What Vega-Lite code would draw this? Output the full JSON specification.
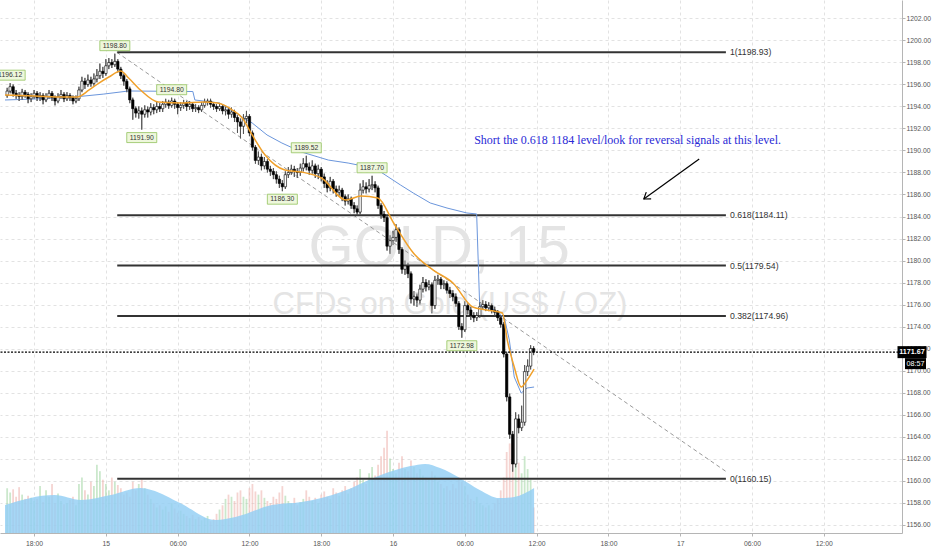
{
"$schema":"https://vega.github.io/schema/vega-lite/v6.json",
"width":902,"height":533,"autosize":"none",
"padding":{"left":0,"top":0,"right":30,"bottom":17},
"background":"#ffffff",
"config":{"view":{"stroke":null},"text":{"font":"Liberation Sans"}},
"datasets":{
"bars":[
{"t":-8.25,"o":1195.0,"h":1195.7,"l":1194.8,"c":1195.4,"v":210},
{"t":-8.0,"o":1195.4,"h":1196.12,"l":1195.2,"c":1195.8,"v":190},
{"t":-7.75,"o":1195.8,"h":1196.0,"l":1194.9,"c":1195.2,"v":205},
{"t":-7.5,"o":1195.2,"h":1195.5,"l":1194.7,"c":1195.0,"v":170},
{"t":-7.25,"o":1195.0,"h":1195.3,"l":1194.5,"c":1194.9,"v":215},
{"t":-7.0,"o":1194.9,"h":1195.6,"l":1194.6,"c":1195.3,"v":180},
{"t":-6.75,"o":1195.3,"h":1195.5,"l":1194.8,"c":1195.1,"v":160},
{"t":-6.5,"o":1195.1,"h":1195.3,"l":1194.3,"c":1194.7,"v":175},
{"t":-6.25,"o":1194.7,"h":1195.2,"l":1194.4,"c":1194.9,"v":165},
{"t":-6.0,"o":1194.9,"h":1195.5,"l":1194.7,"c":1195.2,"v":150},
{"t":-5.75,"o":1195.2,"h":1195.4,"l":1194.5,"c":1194.8,"v":160},
{"t":-5.5,"o":1194.8,"h":1195.3,"l":1194.5,"c":1195.0,"v":220},
{"t":-5.25,"o":1195.0,"h":1195.2,"l":1194.2,"c":1194.6,"v":145},
{"t":-5.0,"o":1194.6,"h":1195.2,"l":1194.4,"c":1194.9,"v":200},
{"t":-4.75,"o":1194.9,"h":1195.5,"l":1194.7,"c":1195.2,"v":170},
{"t":-4.5,"o":1195.2,"h":1195.4,"l":1194.5,"c":1194.8,"v":230},
{"t":-4.25,"o":1194.8,"h":1195.0,"l":1194.1,"c":1194.5,"v":140},
{"t":-4.0,"o":1194.5,"h":1195.2,"l":1194.3,"c":1194.9,"v":185},
{"t":-3.75,"o":1194.9,"h":1195.5,"l":1194.7,"c":1195.1,"v":150},
{"t":-3.5,"o":1195.1,"h":1195.3,"l":1194.4,"c":1194.7,"v":135},
{"t":-3.25,"o":1194.7,"h":1195.3,"l":1194.5,"c":1195.0,"v":140},
{"t":-3.0,"o":1195.0,"h":1195.2,"l":1194.5,"c":1194.8,"v":155},
{"t":-2.75,"o":1194.8,"h":1195.0,"l":1194.2,"c":1194.5,"v":170},
{"t":-2.5,"o":1194.5,"h":1195.0,"l":1194.3,"c":1194.7,"v":130},
{"t":-2.25,"o":1194.7,"h":1195.8,"l":1194.5,"c":1195.5,"v":230},
{"t":-2.0,"o":1195.5,"h":1196.7,"l":1195.3,"c":1196.3,"v":260},
{"t":-1.75,"o":1196.3,"h":1196.6,"l":1195.6,"c":1196.0,"v":200},
{"t":-1.5,"o":1196.0,"h":1196.9,"l":1195.8,"c":1196.4,"v":180},
{"t":-1.25,"o":1196.4,"h":1196.7,"l":1195.8,"c":1196.1,"v":240},
{"t":-1.0,"o":1196.1,"h":1197.0,"l":1195.9,"c":1196.5,"v":220},
{"t":-0.75,"o":1196.5,"h":1197.4,"l":1196.2,"c":1196.8,"v":320},
{"t":-0.5,"o":1196.8,"h":1197.9,"l":1196.5,"c":1197.2,"v":290},
{"t":-0.25,"o":1197.2,"h":1197.6,"l":1196.6,"c":1197.0,"v":250},
{"t":0.0,"o":1197.0,"h":1198.3,"l":1196.8,"c":1197.7,"v":230},
{"t":0.25,"o":1197.7,"h":1198.4,"l":1197.4,"c":1198.0,"v":200},
{"t":0.5,"o":1198.0,"h":1198.3,"l":1197.5,"c":1197.8,"v":260},
{"t":0.75,"o":1197.8,"h":1198.8,"l":1197.6,"c":1198.1,"v":240},
{"t":1.0,"o":1198.1,"h":1198.3,"l":1197.1,"c":1197.4,"v":225},
{"t":1.25,"o":1197.4,"h":1197.6,"l":1196.5,"c":1196.8,"v":210},
{"t":1.5,"o":1196.8,"h":1197.0,"l":1195.9,"c":1196.3,"v":180},
{"t":1.75,"o":1196.3,"h":1196.5,"l":1195.3,"c":1195.6,"v":190},
{"t":2.0,"o":1195.6,"h":1195.8,"l":1194.3,"c":1194.6,"v":170},
{"t":2.25,"o":1194.6,"h":1194.8,"l":1192.8,"c":1193.8,"v":240},
{"t":2.5,"o":1193.8,"h":1194.0,"l":1193.0,"c":1193.4,"v":200},
{"t":2.75,"o":1193.4,"h":1194.0,"l":1192.9,"c":1193.6,"v":230},
{"t":3.0,"o":1193.6,"h":1193.9,"l":1191.9,"c":1193.3,"v":250},
{"t":3.25,"o":1193.3,"h":1194.1,"l":1193.0,"c":1193.7,"v":210},
{"t":3.5,"o":1193.7,"h":1194.0,"l":1193.0,"c":1193.5,"v":180},
{"t":3.75,"o":1193.5,"h":1194.3,"l":1193.2,"c":1193.9,"v":160},
{"t":4.0,"o":1193.9,"h":1194.2,"l":1193.3,"c":1193.7,"v":140},
{"t":4.25,"o":1193.7,"h":1194.4,"l":1193.4,"c":1194.0,"v":120},
{"t":4.5,"o":1194.0,"h":1194.3,"l":1193.5,"c":1193.8,"v":130},
{"t":4.75,"o":1193.8,"h":1194.5,"l":1193.5,"c":1194.2,"v":110},
{"t":5.0,"o":1194.2,"h":1194.7,"l":1193.9,"c":1194.4,"v":125},
{"t":5.25,"o":1194.4,"h":1194.6,"l":1193.8,"c":1194.1,"v":100},
{"t":5.5,"o":1194.1,"h":1194.8,"l":1193.9,"c":1194.5,"v":140},
{"t":5.75,"o":1194.5,"h":1194.7,"l":1193.8,"c":1194.2,"v":115},
{"t":6.0,"o":1194.2,"h":1194.4,"l":1193.3,"c":1193.9,"v":95},
{"t":6.25,"o":1193.9,"h":1194.4,"l":1193.6,"c":1194.1,"v":105},
{"t":6.5,"o":1194.1,"h":1194.6,"l":1193.8,"c":1194.3,"v":90},
{"t":6.75,"o":1194.3,"h":1194.5,"l":1193.6,"c":1194.0,"v":80},
{"t":7.0,"o":1194.0,"h":1194.5,"l":1193.7,"c":1194.2,"v":70},
{"t":7.25,"o":1194.2,"h":1194.4,"l":1193.5,"c":1193.8,"v":85},
{"t":7.5,"o":1193.8,"h":1194.2,"l":1193.5,"c":1193.9,"v":65},
{"t":7.75,"o":1193.9,"h":1194.1,"l":1193.4,"c":1193.7,"v":75},
{"t":8.0,"o":1193.7,"h":1194.4,"l":1193.5,"c":1194.1,"v":60},
{"t":8.25,"o":1194.1,"h":1194.7,"l":1193.9,"c":1194.4,"v":70},
{"t":8.5,"o":1194.4,"h":1194.7,"l":1194.1,"c":1194.5,"v":80},
{"t":8.75,"o":1194.5,"h":1194.7,"l":1193.9,"c":1194.2,"v":55},
{"t":9.0,"o":1194.2,"h":1194.4,"l":1193.7,"c":1194.0,"v":65},
{"t":9.25,"o":1194.0,"h":1194.2,"l":1193.5,"c":1193.8,"v":90},
{"t":9.5,"o":1193.8,"h":1194.3,"l":1193.6,"c":1194.0,"v":110},
{"t":9.75,"o":1194.0,"h":1194.2,"l":1193.3,"c":1193.6,"v":130},
{"t":10.0,"o":1193.6,"h":1194.0,"l":1193.2,"c":1193.7,"v":160},
{"t":10.25,"o":1193.7,"h":1193.9,"l":1192.9,"c":1193.3,"v":180},
{"t":10.5,"o":1193.3,"h":1193.9,"l":1193.0,"c":1193.5,"v":170},
{"t":10.75,"o":1193.5,"h":1193.7,"l":1192.6,"c":1193.0,"v":150},
{"t":11.0,"o":1193.0,"h":1193.2,"l":1191.6,"c":1192.6,"v":190},
{"t":11.25,"o":1192.6,"h":1192.9,"l":1191.1,"c":1192.2,"v":200},
{"t":11.5,"o":1192.2,"h":1193.3,"l":1191.5,"c":1192.9,"v":170},
{"t":11.75,"o":1192.9,"h":1193.6,"l":1192.5,"c":1193.1,"v":160},
{"t":12.0,"o":1193.1,"h":1193.3,"l":1191.3,"c":1191.6,"v":210},
{"t":12.25,"o":1191.6,"h":1191.8,"l":1190.0,"c":1190.3,"v":230},
{"t":12.5,"o":1190.3,"h":1190.5,"l":1188.8,"c":1189.1,"v":195},
{"t":12.75,"o":1189.1,"h":1189.9,"l":1188.7,"c":1189.4,"v":180},
{"t":13.0,"o":1189.4,"h":1189.7,"l":1188.2,"c":1188.6,"v":200},
{"t":13.25,"o":1188.6,"h":1189.4,"l":1188.3,"c":1189.0,"v":165},
{"t":13.5,"o":1189.0,"h":1189.2,"l":1188.0,"c":1188.3,"v":150},
{"t":13.75,"o":1188.3,"h":1188.6,"l":1187.7,"c":1188.1,"v":140},
{"t":14.0,"o":1188.1,"h":1188.4,"l":1187.4,"c":1187.8,"v":170},
{"t":14.25,"o":1187.8,"h":1188.1,"l":1187.0,"c":1187.4,"v":160},
{"t":14.5,"o":1187.4,"h":1187.7,"l":1186.6,"c":1187.0,"v":190},
{"t":14.75,"o":1187.0,"h":1187.3,"l":1186.3,"c":1186.7,"v":220},
{"t":15.0,"o":1186.7,"h":1188.1,"l":1186.5,"c":1187.8,"v":175},
{"t":15.25,"o":1187.8,"h":1188.5,"l":1187.5,"c":1188.0,"v":150},
{"t":15.5,"o":1188.0,"h":1188.7,"l":1187.8,"c":1188.3,"v":140},
{"t":15.75,"o":1188.3,"h":1188.6,"l":1187.6,"c":1188.1,"v":165},
{"t":16.0,"o":1188.1,"h":1188.4,"l":1187.5,"c":1188.0,"v":130},
{"t":16.25,"o":1188.0,"h":1188.8,"l":1187.7,"c":1188.4,"v":145},
{"t":16.5,"o":1188.4,"h":1189.3,"l":1188.1,"c":1188.8,"v":160},
{"t":16.75,"o":1188.8,"h":1189.52,"l":1188.2,"c":1188.5,"v":200},
{"t":17.0,"o":1188.5,"h":1188.9,"l":1187.8,"c":1188.2,"v":170},
{"t":17.25,"o":1188.2,"h":1189.1,"l":1187.9,"c":1188.6,"v":150},
{"t":17.5,"o":1188.6,"h":1188.8,"l":1187.5,"c":1187.9,"v":165},
{"t":17.75,"o":1187.9,"h":1188.7,"l":1187.4,"c":1188.3,"v":140},
{"t":18.0,"o":1188.3,"h":1188.5,"l":1187.2,"c":1187.6,"v":180},
{"t":18.25,"o":1187.6,"h":1187.9,"l":1186.6,"c":1187.0,"v":195},
{"t":18.5,"o":1187.0,"h":1187.3,"l":1186.2,"c":1186.6,"v":170},
{"t":18.75,"o":1186.6,"h":1187.6,"l":1186.3,"c":1187.2,"v":160},
{"t":19.0,"o":1187.2,"h":1187.4,"l":1186.1,"c":1186.5,"v":210},
{"t":19.25,"o":1186.5,"h":1186.8,"l":1185.8,"c":1186.2,"v":190},
{"t":19.5,"o":1186.2,"h":1186.8,"l":1185.9,"c":1186.4,"v":175},
{"t":19.75,"o":1186.4,"h":1186.6,"l":1185.4,"c":1185.8,"v":200},
{"t":20.0,"o":1185.8,"h":1186.0,"l":1185.0,"c":1185.4,"v":220},
{"t":20.25,"o":1185.4,"h":1186.0,"l":1185.1,"c":1185.6,"v":185},
{"t":20.5,"o":1185.6,"h":1185.8,"l":1184.7,"c":1185.0,"v":210},
{"t":20.75,"o":1185.0,"h":1185.3,"l":1184.3,"c":1184.7,"v":240},
{"t":21.0,"o":1184.7,"h":1185.0,"l":1184.1,"c":1184.4,"v":260},
{"t":21.25,"o":1184.4,"h":1187.0,"l":1184.2,"c":1186.4,"v":300},
{"t":21.5,"o":1186.4,"h":1187.3,"l":1186.1,"c":1186.7,"v":250},
{"t":21.75,"o":1186.7,"h":1187.1,"l":1186.1,"c":1186.5,"v":230},
{"t":22.0,"o":1186.5,"h":1187.4,"l":1186.2,"c":1186.8,"v":280},
{"t":22.25,"o":1186.8,"h":1187.7,"l":1186.4,"c":1186.9,"v":310},
{"t":22.5,"o":1186.9,"h":1187.2,"l":1186.2,"c":1186.6,"v":270},
{"t":22.75,"o":1186.6,"h":1186.8,"l":1184.7,"c":1185.0,"v":320},
{"t":23.0,"o":1185.0,"h":1185.2,"l":1183.8,"c":1184.2,"v":360},
{"t":23.25,"o":1184.2,"h":1184.5,"l":1183.5,"c":1183.9,"v":400},
{"t":23.5,"o":1183.9,"h":1184.1,"l":1180.9,"c":1181.3,"v":480},
{"t":23.75,"o":1181.3,"h":1182.3,"l":1180.6,"c":1181.8,"v":350},
{"t":24.0,"o":1181.8,"h":1182.7,"l":1181.4,"c":1182.1,"v":300},
{"t":24.25,"o":1182.1,"h":1183.3,"l":1181.7,"c":1182.8,"v":280},
{"t":24.5,"o":1182.8,"h":1183.0,"l":1180.6,"c":1181.0,"v":330},
{"t":24.75,"o":1181.0,"h":1181.2,"l":1178.8,"c":1179.2,"v":360},
{"t":25.0,"o":1179.2,"h":1180.0,"l":1178.7,"c":1179.5,"v":300},
{"t":25.25,"o":1179.5,"h":1179.8,"l":1178.4,"c":1178.8,"v":290},
{"t":25.5,"o":1178.8,"h":1179.0,"l":1176.1,"c":1176.5,"v":340},
{"t":25.75,"o":1176.5,"h":1177.2,"l":1175.9,"c":1176.7,"v":310},
{"t":26.0,"o":1176.7,"h":1177.0,"l":1175.8,"c":1176.4,"v":280},
{"t":26.25,"o":1176.4,"h":1177.8,"l":1176.0,"c":1177.4,"v":300},
{"t":26.5,"o":1177.4,"h":1178.5,"l":1177.1,"c":1178.0,"v":270},
{"t":26.75,"o":1178.0,"h":1178.3,"l":1177.2,"c":1177.6,"v":260},
{"t":27.0,"o":1177.6,"h":1178.2,"l":1177.3,"c":1177.8,"v":250},
{"t":27.25,"o":1177.8,"h":1178.0,"l":1175.2,"c":1175.9,"v":290},
{"t":27.5,"o":1175.9,"h":1178.6,"l":1175.6,"c":1178.2,"v":270},
{"t":27.75,"o":1178.2,"h":1178.7,"l":1177.8,"c":1178.3,"v":240},
{"t":28.0,"o":1178.3,"h":1178.5,"l":1177.4,"c":1177.8,"v":230},
{"t":28.25,"o":1177.8,"h":1178.2,"l":1177.4,"c":1177.9,"v":210},
{"t":28.5,"o":1177.9,"h":1178.1,"l":1177.0,"c":1177.3,"v":220},
{"t":28.75,"o":1177.3,"h":1177.6,"l":1176.6,"c":1177.0,"v":200},
{"t":29.0,"o":1177.0,"h":1177.3,"l":1176.3,"c":1176.7,"v":230},
{"t":29.25,"o":1176.7,"h":1177.0,"l":1175.8,"c":1176.1,"v":210},
{"t":29.5,"o":1176.1,"h":1176.3,"l":1173.7,"c":1174.0,"v":260},
{"t":29.75,"o":1174.0,"h":1174.3,"l":1172.98,"c":1173.7,"v":240},
{"t":30.0,"o":1173.7,"h":1176.3,"l":1173.5,"c":1175.9,"v":220},
{"t":30.25,"o":1175.9,"h":1176.1,"l":1175.1,"c":1175.5,"v":180},
{"t":30.5,"o":1175.5,"h":1175.8,"l":1174.6,"c":1175.0,"v":160},
{"t":30.75,"o":1175.0,"h":1175.3,"l":1174.4,"c":1174.8,"v":150},
{"t":31.0,"o":1174.8,"h":1175.3,"l":1174.5,"c":1175.0,"v":170},
{"t":31.25,"o":1175.0,"h":1176.2,"l":1174.8,"c":1175.8,"v":140},
{"t":31.5,"o":1175.8,"h":1176.4,"l":1175.5,"c":1176.0,"v":130},
{"t":31.75,"o":1176.0,"h":1176.3,"l":1175.4,"c":1175.7,"v":120},
{"t":32.0,"o":1175.7,"h":1176.2,"l":1175.4,"c":1175.9,"v":130},
{"t":32.25,"o":1175.9,"h":1176.1,"l":1175.2,"c":1175.5,"v":110},
{"t":32.5,"o":1175.5,"h":1175.8,"l":1175.0,"c":1175.3,"v":140},
{"t":32.75,"o":1175.3,"h":1175.5,"l":1174.5,"c":1174.8,"v":160},
{"t":33.0,"o":1174.8,"h":1175.0,"l":1173.9,"c":1174.2,"v":200},
{"t":33.25,"o":1174.2,"h":1174.4,"l":1171.2,"c":1171.5,"v":260},
{"t":33.5,"o":1171.5,"h":1171.7,"l":1167.2,"c":1167.6,"v":380},
{"t":33.75,"o":1167.6,"h":1167.9,"l":1163.8,"c":1164.2,"v":420},
{"t":34.0,"o":1164.2,"h":1164.5,"l":1160.8,"c":1161.5,"v":450},
{"t":34.25,"o":1161.5,"h":1166.2,"l":1161.2,"c":1165.6,"v":400},
{"t":34.5,"o":1165.6,"h":1166.0,"l":1164.3,"c":1164.8,"v":330},
{"t":34.75,"o":1164.8,"h":1166.8,"l":1164.5,"c":1165.3,"v":280},
{"t":35.0,"o":1165.3,"h":1170.5,"l":1165.0,"c":1169.9,"v":360},
{"t":35.25,"o":1169.9,"h":1171.0,"l":1169.5,"c":1170.4,"v":300},
{"t":35.5,"o":1170.4,"h":1172.3,"l":1170.1,"c":1172.0,"v":250},
{"t":35.75,"o":1172.0,"h":1172.2,"l":1171.4,"c":1171.67,"v":120}
],
"vma":[
{"t":-8.43,"v":131},{"t":-4.3,"v":178},{"t":-2.07,"v":155},{"t":0.41,"v":178},{"t":2.89,"v":211},{"t":3.8,"v":202},{"t":6.2,"v":141},{"t":9.17,"v":61},{"t":10.83,"v":75},{"t":13.88,"v":131},{"t":16.36,"v":145},{"t":19.67,"v":192},{"t":22.98,"v":272},{"t":25.45,"v":314},{"t":26.69,"v":324},{"t":27.93,"v":305},{"t":29.59,"v":258},{"t":31.24,"v":202},{"t":32.89,"v":164},{"t":34.13,"v":169},{"t":35.79,"v":211}
],
"ema":[
{"t":-8.43,"p":1195.04},{"t":-5.95,"p":1194.95},{"t":-3.47,"p":1194.86},{"t":-2.4,"p":1194.86},{"t":-1.4,"p":1195.5},{"t":-0.58,"p":1196.13},{"t":0.25,"p":1196.68},{"t":1.24,"p":1197.23},{"t":1.9,"p":1196.59},{"t":2.89,"p":1195.5},{"t":4.38,"p":1194.41},{"t":6.45,"p":1194.32},{"t":8.1,"p":1194.41},{"t":9.34,"p":1194.32},{"t":10.58,"p":1193.68},{"t":11.4,"p":1192.95},{"t":12.23,"p":1191.41},{"t":13.31,"p":1189.59},{"t":14.96,"p":1188.23},{"t":16.36,"p":1188.04},{"t":18.02,"p":1187.5},{"t":20.08,"p":1185.5},{"t":21.32,"p":1185.86},{"t":22.73,"p":1185.68},{"t":24.05,"p":1183.41},{"t":25.7,"p":1180.68},{"t":27.36,"p":1179.13},{"t":29.01,"p":1177.95},{"t":30.66,"p":1175.77},{"t":31.82,"p":1175.5},{"t":33.14,"p":1175.23},{"t":33.55,"p":1172.77},{"t":34.13,"p":1170.32},{"t":34.71,"p":1168.5},{"t":35.21,"p":1169.14},{"t":35.79,"p":1170.13}
],
"ma":[
{"t":-8.43,"p":1194.59},{"t":-5.95,"p":1194.68},{"t":-2.64,"p":1194.86},{"t":-0.17,"p":1195.13},{"t":1.9,"p":1195.41},{"t":7.27,"p":1195.36},{"t":7.44,"p":1194.59},{"t":9.5,"p":1194.32},{"t":11.4,"p":1193.04},{"t":12.23,"p":1192.5},{"t":13.47,"p":1191.41},{"t":14.71,"p":1190.68},{"t":16.36,"p":1189.86},{"t":18.6,"p":1189.13},{"t":20.25,"p":1188.86},{"t":21.07,"p":1188.68},{"t":22.98,"p":1188.04},{"t":24.63,"p":1186.86},{"t":25.7,"p":1186.13},{"t":27.11,"p":1185.23},{"t":28.51,"p":1184.77},{"t":30.17,"p":1184.32},{"t":30.99,"p":1184.23},{"t":31.24,"p":1175.95},{"t":32.48,"p":1175.5},{"t":33.31,"p":1174.77},{"t":33.72,"p":1172.77},{"t":34.13,"p":1169.41},{"t":34.71,"p":1167.95},{"t":35.21,"p":1168.41},{"t":35.79,"p":1168.5}
],
"fib":[
{"t0":0.95,"t1":51.82,"p":1198.93,"lab":"1(1198.93)"},
{"t0":0.95,"t1":51.82,"p":1184.11,"lab":"0.618(1184.11)"},
{"t0":0.95,"t1":51.82,"p":1179.54,"lab":"0.5(1179.54)"},
{"t0":0.95,"t1":51.82,"p":1174.96,"lab":"0.382(1174.96)"},
{"t0":0.95,"t1":51.82,"p":1160.15,"lab":"0(1160.15)"}
],
"trend":[{"t0":0.91,"p0":1198.93,"t1":51.9,"p1":1160.77}],
"hi":[
{"t":-8.0,"p":1196.12,"lab":"1196.12"},{"t":0.75,"p":1198.8,"lab":"1198.80"},{"t":5.5,"p":1194.8,"lab":"1194.80"},{"t":16.75,"p":1189.52,"lab":"1189.52"},{"t":22.25,"p":1187.7,"lab":"1187.70"}
],
"lo":[
{"t":3.0,"p":1191.9,"lab":"1191.90"},{"t":14.75,"p":1186.3,"lab":"1186.30"},{"t":29.75,"p":1172.98,"lab":"1172.98"}
],
"last":[{"t":66.12,"p":1171.67,"lab":"1171.67","tm":"08:57"}],
"arrow":[{"t0":49.59,"p0":1189.23,"t1":44.96,"p1":1185.59}],
"note":[{"t":43.6,"p":1190.59,"lab":"Short the 0.618 1184 level/look for reversal signals at this level."}],
"wm":[{"t":27.85,"p":1179.5,"lab":"GOLD, 15","t2":28.76,"p2":1175.13,"lab2":"CFDs on Gold (US$ / OZ)"}]
},
"resolve":{"scale":{"y":"independent"}},
"layer":[
 {"data":{"name":"bars"},"mark":{"type":"rule","color":"#555555","strokeWidth":1},
  "encoding":{"x":{"field":"t","type":"quantitative","scale":{"domain":[-8.43,66.12],"nice":false,"zero":false},
    "axis":{"values":[-6,0,6,12,18,24,30,36,42,48,54,60],"labelExpr":"['18:00','15','06:00','12:00','18:00','16','06:00','12:00','18:00','17','06:00','12:00'][datum.value/6+1]","title":null,"grid":true,"gridColor":"#e2e2e2","gridDash":[3,3],"domainColor":"#b5b5b5","tickColor":"#b5b5b5","tickSize":3,"labelFontSize":6.8,"labelColor":"#555555","labelFont":"Liberation Sans","labelPadding":4}},
   "y":{"field":"l","type":"quantitative","scale":{"domain":[1155.23,1203.68],"nice":false,"zero":false},
    "axis":{"orient":"right","values":[1156,1158,1160,1162,1164,1166,1168,1170,1172,1174,1176,1178,1180,1182,1184,1186,1188,1190,1192,1194,1196,1198,1200,1202],"format":".2f","title":null,"grid":true,"gridColor":"#e2e2e2","gridDash":[3,3],"domainColor":"#b5b5b5","tickColor":"#b5b5b5","tickSize":3,"labelFontSize":6.8,"labelColor":"#555555","labelFont":"Liberation Sans","labelPadding":1}},
   "y2":{"field":"h"}},"opacity":0},
 {"data":{"name":"wm"},"mark":{"type":"text","fontSize":58,"color":"#e4e4e4","align":"center","baseline":"alphabetic","font":"Liberation Sans"},
  "encoding":{"x":{"field":"t","type":"quantitative","title":null},"y":{"field":"p","type":"quantitative","scale":{"domain":[1155.23,1203.68],"nice":false,"zero":false},"axis":null},"text":{"field":"lab"}}},
 {"data":{"name":"wm"},"mark":{"type":"text","fontSize":31,"color":"#e4e4e4","align":"center","baseline":"alphabetic","font":"Liberation Sans"},
  "encoding":{"x":{"field":"t2","type":"quantitative","title":null},"y":{"field":"p2","type":"quantitative","scale":{"domain":[1155.23,1203.68],"nice":false,"zero":false},"axis":null},"text":{"field":"lab2"}}},
 {"data":{"name":"bars"},"mark":{"type":"bar","size":1.8,"opacity":0.6},
  "encoding":{"x":{"field":"t","type":"quantitative","title":null},
   "y":{"field":"v","type":"quantitative","scale":{"domain":[0,2500],"nice":false},"axis":null},
   "color":{"condition":{"test":"datum.c>=datum.o","value":"#a9d9aa"},"value":"#efb7b2"}}},
 {"data":{"name":"vma"},"mark":{"type":"area","color":"#92cef4","opacity":0.82,"interpolate":"monotone"},
  "encoding":{"x":{"field":"t","type":"quantitative","title":null},
   "y":{"field":"v","type":"quantitative","scale":{"domain":[0,2500],"nice":false},"axis":null}}},
 {"data":{"name":"trend"},"mark":{"type":"rule","color":"#9a9a9a","strokeWidth":1,"strokeDash":[4,3]},
  "encoding":{"x":{"field":"t0","type":"quantitative","title":null},"x2":{"field":"t1"},"y":{"field":"p0","type":"quantitative","scale":{"domain":[1155.23,1203.68],"nice":false,"zero":false},"axis":null},"y2":{"field":"p1"}}},
 {"data":{"name":"fib"},"mark":{"type":"rule","color":"#333333","strokeWidth":2},
  "encoding":{"x":{"field":"t0","type":"quantitative","title":null},"x2":{"field":"t1"},"y":{"field":"p","type":"quantitative","scale":{"domain":[1155.23,1203.68],"nice":false,"zero":false},"axis":null}}},
 {"data":{"name":"fib"},"mark":{"type":"text","align":"left","baseline":"middle","dx":4,"fontSize":8.7,"color":"#333333","font":"Liberation Sans"},
  "encoding":{"x":{"field":"t1","type":"quantitative","title":null},"y":{"field":"p","type":"quantitative","scale":{"domain":[1155.23,1203.68],"nice":false,"zero":false},"axis":null},"text":{"field":"lab"}}},
 {"data":{"name":"ma"},"mark":{"type":"line","color":"#6b96dc","strokeWidth":1},
  "encoding":{"x":{"field":"t","type":"quantitative","title":null},"y":{"field":"p","type":"quantitative","scale":{"domain":[1155.23,1203.68],"nice":false,"zero":false},"axis":null}}},
 {"data":{"name":"bars"},"mark":{"type":"rule","color":"#555555","strokeWidth":1},
  "encoding":{"x":{"field":"t","type":"quantitative","title":null},"y":{"field":"l","type":"quantitative","scale":{"domain":[1155.23,1203.68],"nice":false,"zero":false},"axis":null},"y2":{"field":"h"}}},
 {"data":{"name":"bars"},"mark":{"type":"bar","size":2.4,"stroke":"#000000","strokeWidth":0.6},
  "encoding":{"x":{"field":"t","type":"quantitative","title":null},"y":{"field":"o","type":"quantitative","scale":{"domain":[1155.23,1203.68],"nice":false,"zero":false},"axis":null},"y2":{"field":"c"},
   "fill":{"condition":{"test":"datum.c>=datum.o","value":"#ffffff"},"value":"#000000"}}},
 {"data":{"name":"ema"},"mark":{"type":"line","color":"#f0a02a","strokeWidth":1.5,"interpolate":"monotone"},
  "encoding":{"x":{"field":"t","type":"quantitative","title":null},"y":{"field":"p","type":"quantitative","scale":{"domain":[1155.23,1203.68],"nice":false,"zero":false},"axis":null}}},
 {"data":{"name":"hi"},"mark":{"type":"point","shape":"M-1.5,-0.5H1.5V0.5H-1.5Z","size":400,"filled":true,"fill":"#eef7dc","stroke":"#93c35d","strokeWidth":0.8,"opacity":1,"yOffset":-8},
  "encoding":{"x":{"field":"t","type":"quantitative","title":null},"y":{"field":"p","type":"quantitative","scale":{"domain":[1155.23,1203.68],"nice":false,"zero":false},"axis":null}}},
 {"data":{"name":"hi"},"mark":{"type":"text","fontSize":6.8,"color":"#333333","dy":-8,"align":"center","baseline":"middle"},
  "encoding":{"x":{"field":"t","type":"quantitative","title":null},"y":{"field":"p","type":"quantitative","scale":{"domain":[1155.23,1203.68],"nice":false,"zero":false},"axis":null},"text":{"field":"lab"}}},
 {"data":{"name":"lo"},"mark":{"type":"point","shape":"M-1.5,-0.5H1.5V0.5H-1.5Z","size":400,"filled":true,"fill":"#eef7dc","stroke":"#93c35d","strokeWidth":0.8,"opacity":1,"yOffset":8},
  "encoding":{"x":{"field":"t","type":"quantitative","title":null},"y":{"field":"p","type":"quantitative","scale":{"domain":[1155.23,1203.68],"nice":false,"zero":false},"axis":null}}},
 {"data":{"name":"lo"},"mark":{"type":"text","fontSize":6.8,"color":"#333333","dy":8,"align":"center","baseline":"middle"},
  "encoding":{"x":{"field":"t","type":"quantitative","title":null},"y":{"field":"p","type":"quantitative","scale":{"domain":[1155.23,1203.68],"nice":false,"zero":false},"axis":null},"text":{"field":"lab"}}},
 {"data":{"name":"last"},"mark":{"type":"rule","color":"#000000","strokeWidth":1.2,"strokeDash":[2,1.5]},
  "encoding":{"y":{"field":"p","type":"quantitative","scale":{"domain":[1155.23,1203.68],"nice":false,"zero":false},"axis":null}}},
 {"data":{"name":"last"},"mark":{"type":"point","shape":"M-1.45,-0.6H1.45V0.6H-1.45Z","size":400,"filled":true,"fill":"#000000","opacity":1,"xOffset":15,"clip":false},
  "encoding":{"x":{"field":"t","type":"quantitative","title":null},"y":{"field":"p","type":"quantitative","scale":{"domain":[1155.23,1203.68],"nice":false,"zero":false},"axis":null}}},
 {"data":{"name":"last"},"mark":{"type":"text","fontSize":7.2,"fontWeight":"bold","color":"#ffffff","dx":15,"align":"center","baseline":"middle","clip":false},
  "encoding":{"x":{"field":"t","type":"quantitative","title":null},"y":{"field":"p","type":"quantitative","scale":{"domain":[1155.23,1203.68],"nice":false,"zero":false},"axis":null},"text":{"field":"lab"}}},
 {"data":{"name":"last"},"mark":{"type":"point","shape":"M-1.05,-0.55H1.05V0.55H-1.05Z","size":400,"filled":true,"fill":"#000000","opacity":1,"xOffset":18.5,"yOffset":11.5,"clip":false},
  "encoding":{"x":{"field":"t","type":"quantitative","title":null},"y":{"field":"p","type":"quantitative","scale":{"domain":[1155.23,1203.68],"nice":false,"zero":false},"axis":null}}},
 {"data":{"name":"last"},"mark":{"type":"text","fontSize":7.2,"color":"#ffffff","dx":18.5,"dy":11.5,"align":"center","baseline":"middle","clip":false},
  "encoding":{"x":{"field":"t","type":"quantitative","title":null},"y":{"field":"p","type":"quantitative","scale":{"domain":[1155.23,1203.68],"nice":false,"zero":false},"axis":null},"text":{"field":"tm"}}},
 {"data":{"name":"note"},"mark":{"type":"text","fontSize":12,"color":"#2a2ad6","align":"center","baseline":"alphabetic","font":"Liberation Serif"},
  "encoding":{"x":{"field":"t","type":"quantitative","title":null},"y":{"field":"p","type":"quantitative","scale":{"domain":[1155.23,1203.68],"nice":false,"zero":false},"axis":null},"text":{"field":"lab"}}},
 {"data":{"name":"arrow"},"mark":{"type":"rule","color":"#000000","strokeWidth":1.2},
  "encoding":{"x":{"field":"t0","type":"quantitative","title":null},"x2":{"field":"t1"},"y":{"field":"p0","type":"quantitative","scale":{"domain":[1155.23,1203.68],"nice":false,"zero":false},"axis":null},"y2":{"field":"p1"}}},
 {"data":{"name":"arrow"},"mark":{"type":"point","shape":"M-0.7,1L0,0L0.7,1","size":144,"filled":false,"stroke":"#000000","strokeWidth":1.2,"opacity":1,"angle":234.5},
  "encoding":{"x":{"field":"t1","type":"quantitative","title":null},"y":{"field":"p1","type":"quantitative","scale":{"domain":[1155.23,1203.68],"nice":false,"zero":false},"axis":null}}}
]
}
